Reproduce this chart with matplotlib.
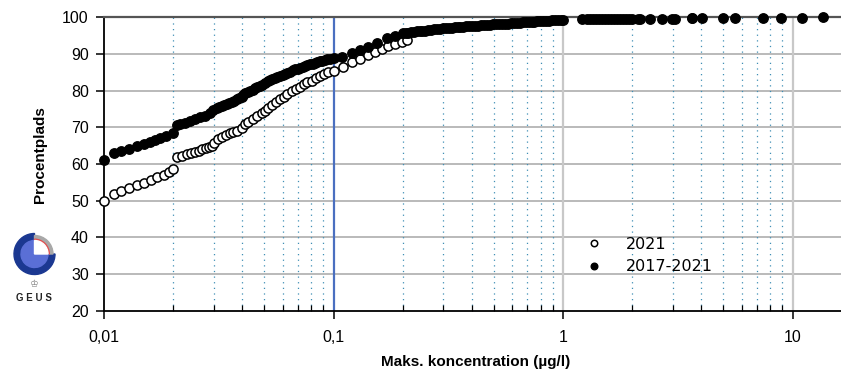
import numpy as np
import matplotlib.pyplot as plt
from matplotlib.patches import Wedge
from matplotlib.ticker import FixedLocator, LogLocator, NullFormatter

# data
x_2021 = [0.0100, 0.0110, 0.0119, 0.0129, 0.0139, 0.0149, 0.0160, 0.0171, 0.0183, 0.0192,
          0.0200, 0.0209, 0.0219, 0.0229, 0.0239, 0.0249, 0.0259, 0.0268, 0.0277, 0.0287,
          0.0296, 0.0303, 0.0315, 0.0326, 0.0340, 0.0354, 0.0366, 0.0381, 0.0398, 0.0412,
          0.0425, 0.0447, 0.0466, 0.0487, 0.0503, 0.0520, 0.0538, 0.0562, 0.0585, 0.0608,
          0.0629, 0.0658, 0.0687, 0.0715, 0.0744, 0.0769, 0.0804, 0.0839, 0.0873, 0.0909,
          0.0949, 0.1000, 0.1103, 0.1200, 0.1305, 0.1419, 0.1517, 0.1622, 0.1733, 0.1853,
          0.1980, 0.2100, 2.13, 3.64]
y_2021 = [50.0, 51.8, 52.6, 53.4, 54.2, 54.9, 55.6, 56.4, 57.1, 57.8,
          58.7, 61.8, 62.2, 62.6, 63.1, 63.4, 63.6, 64.0, 64.3, 64.6,
          65.0, 65.8, 66.8, 67.3, 67.9, 68.4, 68.8, 69.1, 69.7, 70.9,
          71.4, 72.3, 73.0, 73.8, 74.4, 75.4, 76.1, 76.9, 77.6, 78.3,
          79.1, 79.9, 80.5, 81.1, 81.7, 82.3, 82.7, 83.5, 84.1, 84.6,
          85.1, 85.4, 86.5, 87.7, 88.7, 89.7, 90.6, 91.4, 92.2, 92.7,
          93.4, 93.9, 99.55, 99.75]

x_all = [0.0100, 0.0110, 0.0119, 0.0129, 0.0139, 0.0149, 0.0158, 0.0167, 0.0176, 0.0187,
         0.0200, 0.0209, 0.0214, 0.0225, 0.0237, 0.0249, 0.0262, 0.0275, 0.0290, 0.0299,
         0.0310, 0.0318, 0.0326, 0.0334, 0.0342, 0.0351, 0.0360, 0.0369, 0.0378, 0.0388,
         0.0398, 0.0405, 0.0412, 0.0422, 0.0433, 0.0444, 0.0455, 0.0466, 0.0478, 0.0490,
         0.0503, 0.0516, 0.0529, 0.0542, 0.0556, 0.0570, 0.0585, 0.0600, 0.0614, 0.0630,
         0.0646, 0.0663, 0.0680, 0.0697, 0.0715, 0.0733, 0.0751, 0.0770, 0.0790, 0.0810,
         0.0830, 0.0851, 0.0873, 0.0895, 0.0918, 0.0941, 0.0965, 0.1000, 0.1094, 0.1200,
         0.1305, 0.1419, 0.1545, 0.1705, 0.1852, 0.2014, 0.206, 0.212, 0.218, 0.224,
         0.230, 0.237, 0.244, 0.251, 0.258, 0.266, 0.274, 0.282, 0.290, 0.299,
         0.308, 0.317, 0.327, 0.337, 0.347, 0.357, 0.368, 0.379, 0.390, 0.402,
         0.414, 0.427, 0.440, 0.453, 0.467, 0.481, 0.495, 0.510, 0.526, 0.542,
         0.558, 0.575, 0.592, 0.610, 0.628, 0.647, 0.667, 0.687, 0.708, 0.729,
         0.751, 0.774, 0.797, 0.821, 0.846, 0.871, 0.897, 0.924, 0.952, 0.980,
         1.000, 1.21, 1.27, 1.31, 1.35, 1.39, 1.44, 1.48, 1.52, 1.57,
         1.62, 1.67, 1.72, 1.77, 1.83, 1.88, 1.94, 2.00, 2.17, 2.39,
         2.69, 2.98, 3.08, 3.64, 4.02, 5.00, 5.62, 7.42, 8.91, 11.0,
         13.6]
y_all = [61.1, 62.9, 63.5, 64.2, 64.8, 65.4, 66.0, 66.5, 67.2, 67.7,
         68.4, 70.6, 70.9, 71.3, 71.7, 72.2, 72.7, 73.2, 73.8, 74.7,
         75.2, 75.5, 75.8, 76.1, 76.4, 76.7, 77.0, 77.3, 77.6, 78.0,
         78.4, 78.9, 79.3, 79.7, 80.0, 80.3, 80.6, 81.0, 81.3, 81.6,
         82.0, 82.5, 82.9, 83.2, 83.5, 83.8, 84.0, 84.3, 84.5, 84.9,
         85.2, 85.5, 85.8, 86.0, 86.3, 86.5, 86.8, 87.0, 87.3, 87.4,
         87.6, 87.8, 88.0, 88.2, 88.4, 88.5, 88.6, 88.8, 89.3, 90.2,
         91.1, 92.0, 93.1, 94.3, 94.9, 95.6, 95.7, 95.85, 95.95, 96.05,
         96.15, 96.25, 96.3, 96.4, 96.5, 96.6, 96.7, 96.75, 96.85, 96.95,
         97.0, 97.1, 97.15, 97.25, 97.3, 97.4, 97.45, 97.5, 97.55, 97.65,
         97.7, 97.75, 97.8, 97.9, 97.95, 98.0, 98.05, 98.1, 98.15, 98.2,
         98.25, 98.3, 98.4, 98.45, 98.5, 98.55, 98.6, 98.7, 98.75, 98.8,
         98.85, 98.9, 98.95, 99.0, 99.05, 99.1, 99.15, 99.2, 99.25, 99.28,
         99.3, 99.45, 99.5, 99.5, 99.5, 99.5, 99.5, 99.5, 99.5, 99.5,
         99.5, 99.5, 99.5, 99.5, 99.55, 99.55, 99.55, 99.55, 99.55, 99.6,
         99.6, 99.65, 99.65, 99.7, 99.7, 99.75, 99.75, 99.8, 99.85, 99.9,
         100.0]

xticks = [0.01, 0.1, 1, 10]
xtick_labels = ["0,01", "0,1", "1", "10"]
yticks = [20, 30, 40, 50, 60, 70, 80, 90, 100]

W, H = 841, 374
fig = plt.figure(figsize=(W / 100, H / 100), dpi=100)
ax = fig.add_axes([104 / W, 1 - 310.7 / H, 1 - 104 / W, (310.7 - 17.3) / H])

ax.set_xscale('log')
ax.set_xlim(0.01, 16.26)
ax.set_ylim(20, 100)

# grid
for y in yticks[1:-1]:
    ax.axhline(y, color='#b4b4b4', lw=1.3, zorder=1)
ax.xaxis.set_minor_locator(LogLocator(base=10, subs=np.arange(2, 10)))
ax.xaxis.set_minor_formatter(NullFormatter())
ax.grid(which='minor', axis='x', color='#3f8fb5', lw=0.9, linestyle=(0, (1, 3.5)), zorder=1)
for x in [1, 10]:
    ax.axvline(x, color='#c8c8c8', lw=1.6, zorder=1)
ax.axvline(0.1, color='#4a6fc0', lw=1.6, zorder=2)

ax.plot(x_2021, y_2021, 'o', ms=6.6, mfc='white', mec='black', mew=1.1,
        label='2021', clip_on=False, zorder=3)
ax.plot(x_all, y_all, 'o', ms=6.8, mfc='black', mec='black', mew=1,
        label='2017-2021', clip_on=False, zorder=4)

ax.xaxis.set_major_locator(FixedLocator(xticks))
ax.set_xticklabels(xtick_labels)
ax.set_yticks(yticks)

for s in ['left', 'bottom']:
    ax.spines[s].set_linewidth(1.3)
    ax.spines[s].set_color('black')
ax.spines['top'].set_color('#555555')
ax.spines['top'].set_linewidth(1.6)
ax.spines['right'].set_visible(False)

ax.tick_params(axis='both', which='major', direction='out', length=6, width=1.1,
               labelsize=11.5, pad=5)
ax.tick_params(axis='x', which='minor', direction='in', length=4, width=0.9)
ax.tick_params(axis='x', which='major', pad=8)
for lab in ax.get_xticklabels() + ax.get_yticklabels():
    lab.set_family('Liberation Sans')

fig.text(40 / W, 1 - 155 / H, 'Procentplads', rotation=90, ha='center', va='center',
         fontsize=11, fontweight='bold', family='Liberation Sans')
fig.text(476 / W, 1 - 362 / H, 'Maks. koncentration (µg/l)', ha='center', va='center',
         fontsize=11, fontweight='bold', family='Liberation Sans')

leg = ax.legend(loc='upper left', bbox_to_anchor=(584 / W, 1 - 237 / H),
                bbox_transform=fig.transFigure, frameon=False, markerscale=0.7,
                handlelength=1.2, handletextpad=1.4, labelspacing=0.45,
                borderaxespad=0, borderpad=0, prop={'family': 'DejaVu Sans', 'size': 11.5})

# GEUS logo
lax = fig.add_axes([9.5 / W, 1 - 279 / H, 50 / W, 50 / H])
lax.set_xlim(-25, 25)
lax.set_ylim(-25, 25)
lax.axis('off')
lax.add_patch(Wedge((0, 0), 20.5, 90, 360, width=7, color='#1b3891'))
lax.add_patch(Wedge((0, 0), 18.5, 0, 90, width=4, color='#a8a8a8'))
lax.add_patch(Wedge((0, 0), 14.8, 0, 90, width=1.3, color='#e05050'))
lax.add_patch(Wedge((0, 0), 13.5, 90, 360, color='#5a6fd6'))
lax.add_patch(Wedge((0, 0), 13.5, 0, 90, color='white'))
fig.text(34 / W, 1 - 284 / H, '\u2654', ha='center', va='center', fontsize=7,
         color='#888888', family='DejaVu Sans')
fig.text(34 / W, 1 - 298 / H, 'G E U S', ha='center', va='center', fontsize=7,
         fontweight='bold', family='Liberation Sans', color='#222222')

fig.savefig('out.png', dpi=100)
